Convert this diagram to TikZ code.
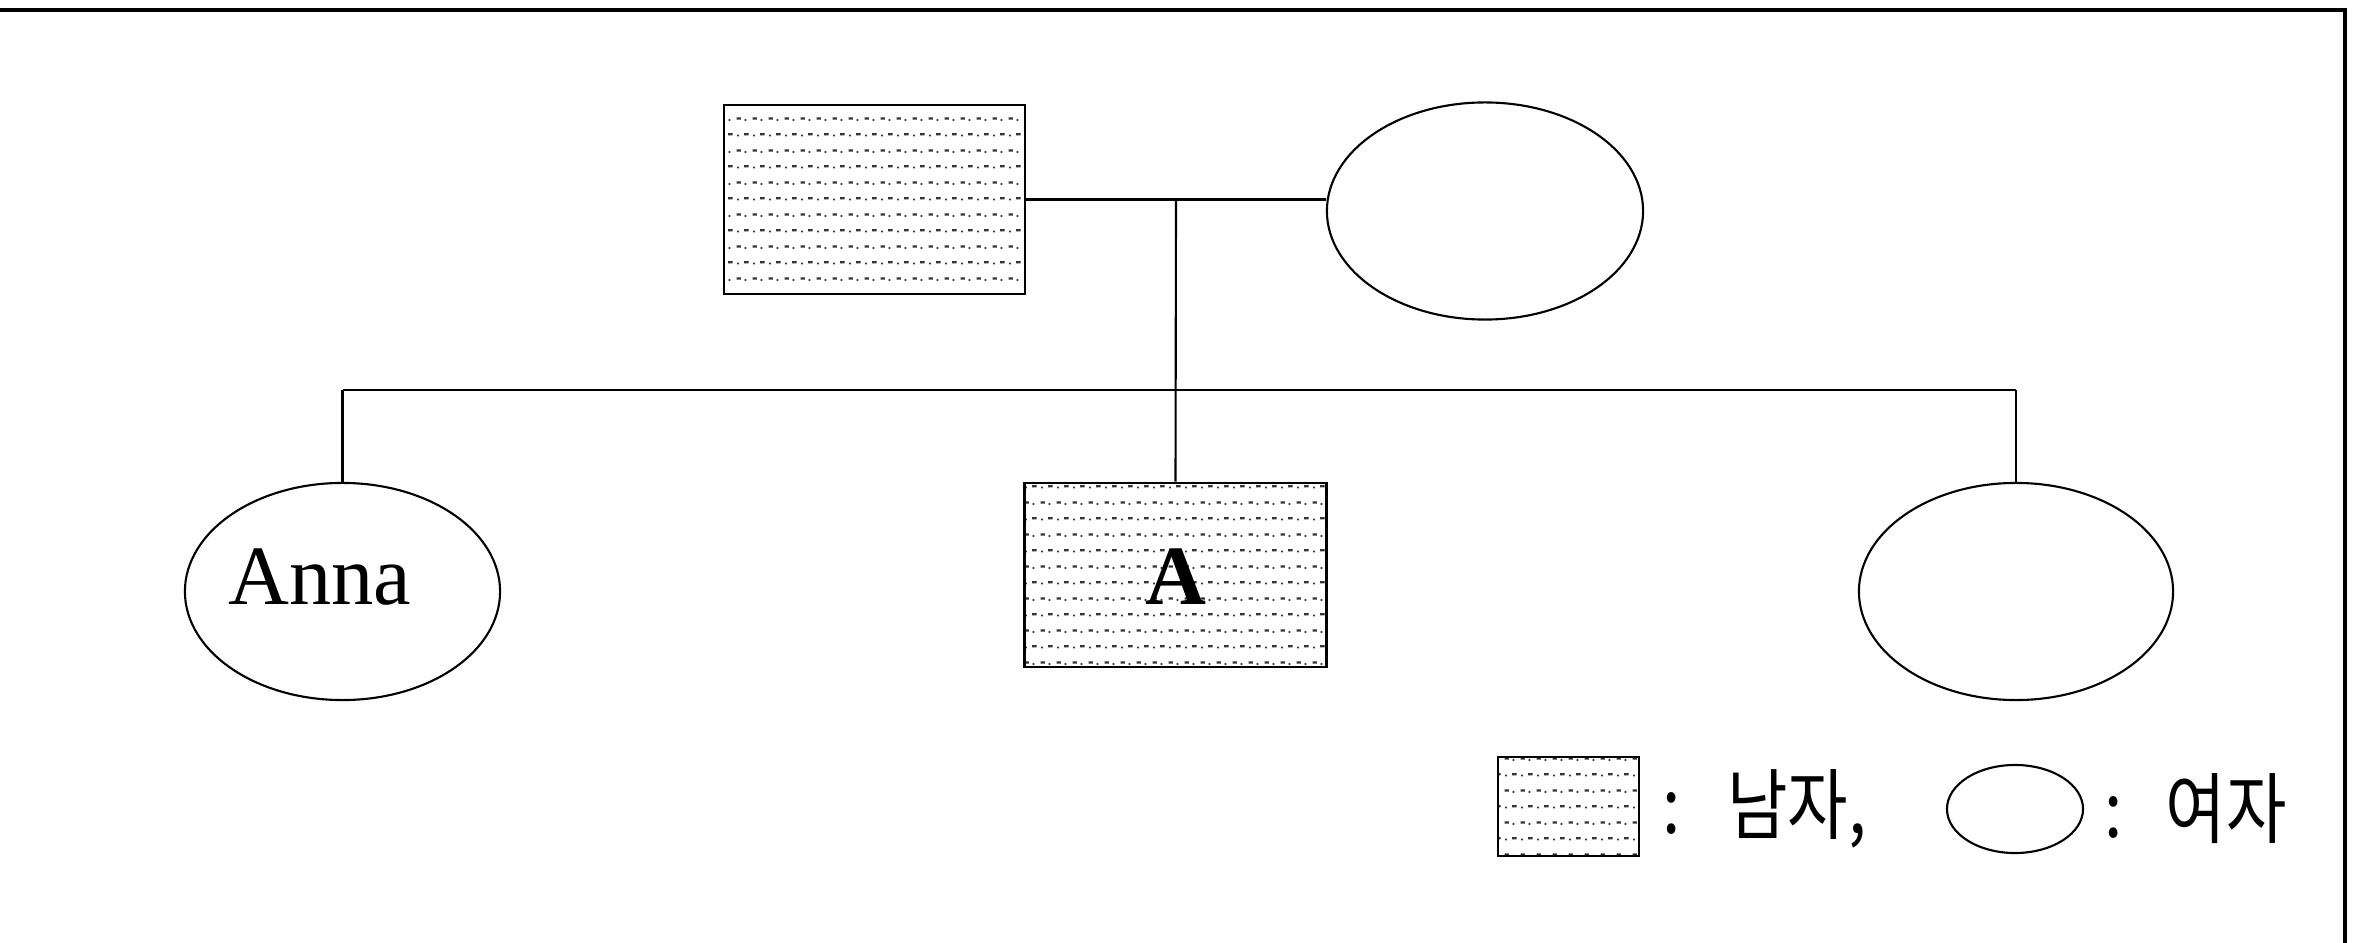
\documentclass[tikz,border=0pt]{standalone}
\usepackage{fontspec}
\setmainfont{Liberation Serif}
\newfontfamily\kr[FakeStretch=0.85]{Noto Sans CJK KR}
\usetikzlibrary{shapes.geometric,patterns}
\pgfdeclarepatternformonly{dashdot}{\pgfpointorigin}{\pgfqpoint{4.55pt}{9.1pt}}{\pgfqpoint{4.55pt}{9.1pt}}{%
  \pgfpathrectangle{\pgfqpoint{0.2pt}{6.8pt}}{\pgfqpoint{1.3pt}{0.65pt}}%
  \pgfpathrectangle{\pgfqpoint{2.6pt}{6.45pt}}{\pgfqpoint{0.55pt}{0.55pt}}%
  \pgfpathrectangle{\pgfqpoint{2.47pt}{2.25pt}}{\pgfqpoint{1.3pt}{0.65pt}}%
  \pgfpathrectangle{\pgfqpoint{0.33pt}{1.9pt}}{\pgfqpoint{0.55pt}{0.55pt}}%
  \pgfusepath{fill}}
\tikzset{
  male/.style={draw=black, line width=0.7pt, rectangle, inner sep=0pt, pattern=dashdot, pattern color=black!80},
  female/.style={draw=black, line width=0.6pt, ellipse, inner sep=0pt},
  link/.style={draw=black, line width=0.6pt},
  lbl/.style={inner sep=0pt, font=\fontsize{24}{28}\selectfont},
  krlbl/.style={inner sep=0pt, anchor=west, font=\kr\fontsize{22}{26}\selectfont}
}
\begin{document}
\begin{tikzpicture}[x=0.01cm,y=-0.01cm]
\useasboundingbox (0,0) rectangle (2360,943);
% frame
\draw[line width=1pt] (0,10) -- (2345,10) -- (2345,943);
% parents
\node[male, minimum width=3.01cm, minimum height=1.89cm] (father) at (874.5,199.5) {};
\node[female, minimum width=3.16cm, minimum height=2.17cm] (mother) at (1485,211) {};
% children
\node[female, minimum width=3.15cm, minimum height=2.17cm] (anna) at (342.5,591.5) {};
\node[male, minimum width=3.02cm, minimum height=1.84cm] (a) at (1175.5,575) {};
\node[female, minimum width=3.14cm, minimum height=2.17cm] (right) at (2016,591.5) {};
\node[lbl, anchor=base] (annatxt) at (320,605) {Anna};
\node[lbl, anchor=base, font=\fontsize{24}{28}\selectfont\bfseries] (atxt) at (1176,605) {A};
% connectors
\coordinate (m) at (1176,199.5);
\coordinate (sb) at (1176,390);
\draw[link] (father.east) -- (father.east -| mother.west);
\draw[link] (m) -- (a.north);
\draw[link] (anna.north |- sb) -- (right.north |- sb);
\draw[link] (anna.north) -- (anna.north |- sb);
\draw[link] (right.north) -- (right.north |- sb);
% legend
\node[male, minimum width=1.41cm, minimum height=0.99cm] (lm) at (1568.5,806.5) {};
\node[female, minimum width=1.36cm, minimum height=0.88cm] (lf) at (2015,809) {};
\node[krlbl] (lmtxt) at (1662,809) {:\hspace{0.6em}남자,};
\node[krlbl] (lftxt) at (2104,809) {:\hspace{0.55em}여자};
\end{tikzpicture}
\end{document}
